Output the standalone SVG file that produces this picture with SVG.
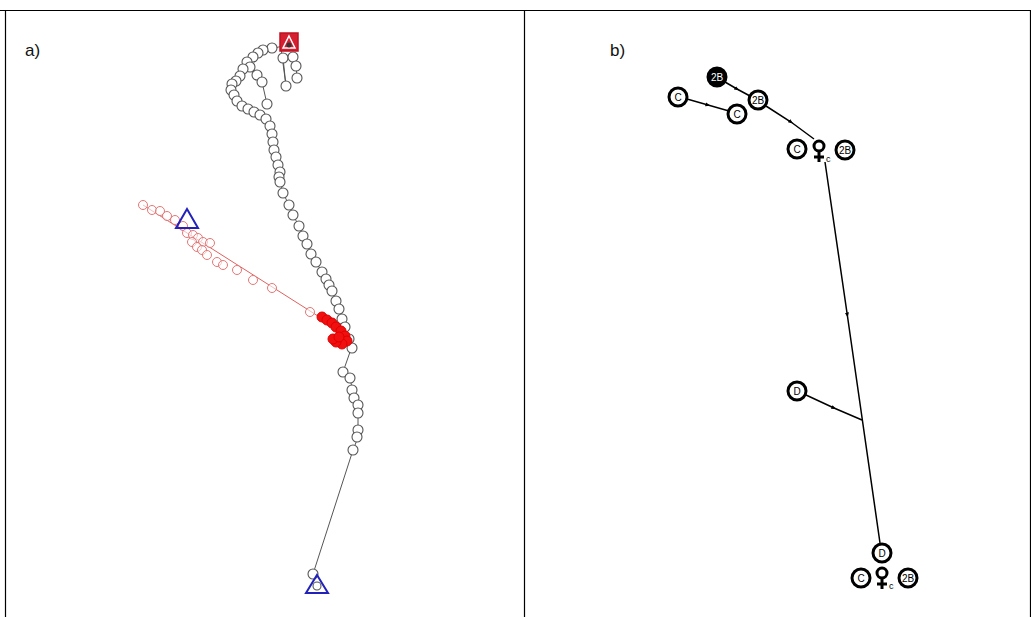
<svg xmlns="http://www.w3.org/2000/svg" width="1031" height="617" viewBox="0 0 1031 617">
<style>
.lbl{font-family:"Liberation Sans",Arial,sans-serif;font-size:17px;fill:#111}
.trk{fill:none;stroke:#555;stroke-width:1}
.pt{fill:#fff;stroke:#555;stroke-width:1.1}
.rl{fill:none;stroke:#e06060;stroke-width:1}
.rp{fill:#fff;fill-opacity:.6;stroke:#e07878;stroke-width:1}
.rb{fill:#f01010;stroke:#e00000;stroke-width:1}
.tri{fill:none;stroke:#2222bb;stroke-width:2}
.nd{fill:#fff;stroke:#000;stroke-width:3}
.ndf{fill:#000;stroke:#000;stroke-width:3}
.nt{font-family:"Liberation Sans",Arial,sans-serif;font-size:10px;text-anchor:middle;dominant-baseline:central;fill:#000}
.ntw{font-family:"Liberation Sans",Arial,sans-serif;font-size:10px;text-anchor:middle;dominant-baseline:central;fill:#fff}
.fem{fill:none;stroke:#000;stroke-width:3}
.sc{font-family:"Liberation Sans",Arial,sans-serif;font-size:9px;fill:#000}
.edge{fill:none;stroke:#000;stroke-width:1.5;marker-mid:url(#ah)}
</style>
<defs>
<marker id="ah" viewBox="0 0 10 10" refX="5" refY="5" markerWidth="5" markerHeight="5" orient="auto" markerUnits="userSpaceOnUse">
<path d="M0,1 L10,5 L0,9 Z" fill="#000"/>
</marker>
</defs>
<rect x="0" y="0" width="1031" height="617" fill="#fff"/>
<g id="table" fill="none" stroke="#000" stroke-width="1.2">
<line x1="0" y1="10.5" x2="1031" y2="10.5"/>
<line x1="5.5" y1="10" x2="5.5" y2="617"/>
<line x1="524.5" y1="10" x2="524.5" y2="617"/>
<line x1="1030.5" y1="10" x2="1030.5" y2="617"/>
</g>
<text class="lbl" x="25" y="56">a)</text>
<text class="lbl" x="610" y="56">b)</text>

<g id="panel-a">
<g id="track-black">
<polyline class="trk" points="289,42 283,46 270,49 262,50 253,55 247,61 243,66 240,77 234,83 232,90 237,97 241,103 247,107 253,111 260,114 266,118 270,126 272,134 273,142 274,150 276,157 278,165 280,173 280,181 283,193 289,205 293,215 299,226 303,236 307,244 311,254 316,262 322,272 326,280 332,291 336,301 339,309 342,319 345,327 349,339 352,348 350,352 343,372 350,378 352,388 353,397 358,405 358,413 358,423 358,433 357,440 353,450 313,574"/>
<polyline class="trk" points="281,48 286,86"/>
<polyline class="trk" points="283,58 286,86"/>
<polyline class="trk" points="293,57 296,65 297,78"/>
<polyline class="trk" points="250,67 257,75 262,82 267,104"/>
<g>
<circle class="pt" cx="283" cy="58" r="5"/><circle class="pt" cx="293" cy="57" r="5"/><circle class="pt" cx="296" cy="66" r="5"/><circle class="pt" cx="297" cy="78" r="5"/><circle class="pt" cx="286" cy="86" r="5"/>
<circle class="pt" cx="272" cy="48" r="5"/><circle class="pt" cx="263" cy="50" r="5"/><circle class="pt" cx="258" cy="53" r="5"/><circle class="pt" cx="253" cy="57" r="5"/><circle class="pt" cx="247" cy="62" r="5"/><circle class="pt" cx="250" cy="67" r="5"/><circle class="pt" cx="243" cy="69" r="5"/><circle class="pt" cx="257" cy="75" r="5"/><circle class="pt" cx="240" cy="76" r="5"/><circle class="pt" cx="236" cy="81" r="5"/><circle class="pt" cx="232" cy="84" r="5"/><circle class="pt" cx="262" cy="82" r="5"/><circle class="pt" cx="231" cy="90" r="5"/><circle class="pt" cx="234" cy="95" r="5"/><circle class="pt" cx="237" cy="101" r="5"/><circle class="pt" cx="267" cy="104" r="5"/><circle class="pt" cx="242" cy="106" r="5"/><circle class="pt" cx="248" cy="109" r="5"/><circle class="pt" cx="254" cy="112" r="5"/><circle class="pt" cx="260" cy="115" r="5"/><circle class="pt" cx="266" cy="119" r="5"/><circle class="pt" cx="270" cy="126" r="5"/>
<circle class="pt" cx="272" cy="134" r="5"/><circle class="pt" cx="273" cy="142" r="5"/><circle class="pt" cx="274" cy="150" r="5"/><circle class="pt" cx="276" cy="157" r="5"/><circle class="pt" cx="278" cy="165" r="5"/><circle class="pt" cx="280" cy="172" r="5"/><circle class="pt" cx="279" cy="177" r="5"/><circle class="pt" cx="280" cy="182" r="5"/><circle class="pt" cx="283" cy="193" r="5"/><circle class="pt" cx="289" cy="205" r="5"/><circle class="pt" cx="293" cy="215" r="5"/><circle class="pt" cx="299" cy="226" r="5"/><circle class="pt" cx="303" cy="236" r="5"/><circle class="pt" cx="307" cy="244" r="5"/><circle class="pt" cx="311" cy="254" r="5"/><circle class="pt" cx="316" cy="262" r="5"/><circle class="pt" cx="322" cy="272" r="5"/><circle class="pt" cx="326" cy="279" r="5"/><circle class="pt" cx="329" cy="285" r="5"/><circle class="pt" cx="332" cy="291" r="5"/><circle class="pt" cx="336" cy="301" r="5"/><circle class="pt" cx="339" cy="309" r="5"/><circle class="pt" cx="342" cy="319" r="5"/><circle class="pt" cx="345" cy="327" r="5"/><circle class="pt" cx="349" cy="339" r="5"/><circle class="pt" cx="352" cy="348" r="5"/>
<circle class="pt" cx="343" cy="372" r="5"/><circle class="pt" cx="350" cy="378" r="5"/><circle class="pt" cx="352" cy="390" r="5"/><circle class="pt" cx="354" cy="398" r="5"/><circle class="pt" cx="358" cy="405" r="5"/><circle class="pt" cx="358" cy="413" r="5"/><circle class="pt" cx="358" cy="430" r="5"/><circle class="pt" cx="357" cy="437" r="5"/><circle class="pt" cx="353" cy="450" r="5"/><circle class="pt" cx="313" cy="574" r="5"/><circle class="pt" cx="317" cy="586" r="4"/>
</g>
</g>
<g id="track-red">
<line class="rl" x1="143" y1="205" x2="340" y2="330"/>
<circle class="rp" cx="143" cy="205" r="4.5"/><circle class="rp" cx="152" cy="210" r="4.5"/><circle class="rp" cx="160" cy="211" r="4.5"/><circle class="rp" cx="167" cy="216" r="4.5"/><circle class="rp" cx="175" cy="220" r="4.5"/><circle class="rp" cx="183" cy="226" r="4.5"/><circle class="rp" cx="187" cy="233" r="4.5"/><circle class="rp" cx="193" cy="235" r="4.5"/><circle class="rp" cx="198" cy="238" r="4.5"/><circle class="rp" cx="203" cy="242" r="4.5"/><circle class="rp" cx="210" cy="243" r="4.5"/><circle class="rp" cx="192" cy="242" r="4.5"/><circle class="rp" cx="197" cy="247" r="4.5"/><circle class="rp" cx="202" cy="250" r="4.5"/><circle class="rp" cx="207" cy="255" r="4.5"/><circle class="rp" cx="217" cy="262" r="4.5"/><circle class="rp" cx="223" cy="265" r="4.5"/><circle class="rp" cx="237" cy="270" r="4.5"/><circle class="rp" cx="253" cy="280" r="4.5"/><circle class="rp" cx="272" cy="288" r="4.5"/><circle class="rp" cx="310" cy="312" r="4.5"/>
<circle class="rb" cx="322" cy="317" r="5"/><circle class="rb" cx="327" cy="320" r="5"/><circle class="rb" cx="332" cy="323" r="5"/><circle class="rb" cx="336" cy="327" r="5"/><circle class="rb" cx="341" cy="331" r="5"/><circle class="rb" cx="345" cy="336" r="5"/><circle class="rb" cx="347" cy="341" r="5"/><circle class="rb" cx="342" cy="344" r="5"/><circle class="rb" cx="336" cy="342" r="5"/><circle class="rb" cx="333" cy="339" r="5"/><circle class="rb" cx="339" cy="337" r="5"/>
</g>
<g id="start-end">
<rect x="280" y="33" width="18" height="18" fill="#d42030" stroke="#c01020" stroke-width="1.5"/>
<polygon points="289,36 295,48 283,48" fill="none" stroke="#fff" stroke-width="1.5"/>
<circle cx="289" cy="45" r="2.5" fill="#333"/>
<polygon class="tri" points="187,209 198,228 176,228"/>
<polygon class="tri" points="317,575 328,593 306,593"/>
</g>
</g>

<g id="panel-b">
<g id="connectors">
<polyline class="edge" points="687,99 708,105 729,111"/>
<polyline class="edge" points="725,82 737,89 750,96"/>
<polyline class="edge" points="766,106 791,122 814,139"/>
<polyline class="edge" points="806,395 834,408 862,420"/>
<polyline class="edge" points="825,162 847.3,315 880,543"/>
</g>
<g id="node-2B-filled"><circle class="ndf" cx="717" cy="77" r="9"/><text class="ntw" x="717" y="77">2B</text></g>
<g id="node-C1"><circle class="nd" cx="678" cy="97" r="9"/><text class="nt" x="678" y="97">C</text></g>
<g id="node-C2"><circle class="nd" cx="737" cy="114" r="9"/><text class="nt" x="737" y="114">C</text></g>
<g id="node-2B1"><circle class="nd" cx="758" cy="100" r="9"/><text class="nt" x="758" y="100">2B</text></g>
<g id="node-C3"><circle class="nd" cx="797" cy="149" r="9"/><text class="nt" x="797" y="149">C</text></g>
<g id="node-female1"><circle class="fem" cx="819" cy="146" r="5"/><line x1="819" y1="151" x2="819" y2="162" stroke="#000" stroke-width="3"/><line x1="814" y1="157" x2="824" y2="157" stroke="#000" stroke-width="3"/><text class="sc" x="826" y="162">c</text></g>
<g id="node-2B2"><circle class="nd" cx="845" cy="150" r="9"/><text class="nt" x="845" y="150">2B</text></g>
<g id="node-D1"><circle class="nd" cx="797" cy="391" r="9"/><text class="nt" x="797" y="391">D</text></g>
<g id="node-D2"><circle class="nd" cx="882" cy="553" r="9"/><text class="nt" x="882" y="553">D</text></g>
<g id="node-C4"><circle class="nd" cx="861" cy="578" r="9"/><text class="nt" x="861" y="578">C</text></g>
<g id="node-female2"><circle class="fem" cx="882" cy="573" r="5"/><line x1="882" y1="578" x2="882" y2="589" stroke="#000" stroke-width="3"/><line x1="877" y1="584" x2="887" y2="584" stroke="#000" stroke-width="3"/><text class="sc" x="889" y="589">c</text></g>
<g id="node-2B3"><circle class="nd" cx="908" cy="578" r="9"/><text class="nt" x="908" y="578">2B</text></g>
</g>
</svg>
